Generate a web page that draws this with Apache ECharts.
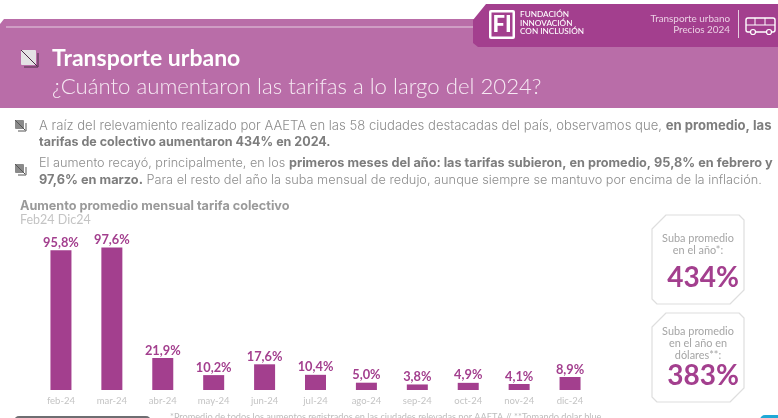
<!DOCTYPE html>
<html><head><meta charset="utf-8">
<style>html,body{margin:0;padding:0;background:#fff}#c{width:778px;height:418px}</style>
<script src="https://cdn.jsdelivr.net/npm/echarts@6/dist/echarts.min.js"></script>
</head><body><div id="c"></div>
<script>
const categories=['feb-24','mar-24','abr-24','may-24','jun-24','jul-24','ago-24','sep-24','oct-24','nov-24','dic-24'];
const values=[95.8,97.6,21.9,10.2,17.6,10.4,5.0,3.8,4.9,4.1,8.9];
const F='Lato, "Open Sans", sans-serif';
const B='Inter, Lato, sans-serif';
const PURPLE='#A33F8E', BAND='#B96DA8', GREY='#8C8C8C';
const chart=echarts.init(document.getElementById('c'),null,{renderer:'canvas'});
function txt(x,y,text,size,color,weight,align,fam){
  return {type:'text',x:x,y:y,z:20,style:{text:text,fontFamily:fam||F,fontSize:size,fill:color,fontWeight:weight||400,align:align||'left',verticalAlign:'middle'}};
}
function rich(x,y,text,size){
  return {type:'text',x:x,y:y,z:20,style:{text:text,fontFamily:B,fontSize:size,fontWeight:300,fill:GREY,verticalAlign:'middle',
    rich:{b:{fontFamily:B,fontSize:size,fontWeight:700,fill:'#7d7d7d'},n:{fontFamily:B,fontSize:size,fontWeight:300,fill:GREY}}}};
}
function icon(x,y,s,c,l){
  return [{type:'rect',z:20,shape:{x:x,y:y,width:s,height:s,r:1},style:{fill:c}},
   {type:'polyline',z:21,shape:{points:[[x,y],[x+s+1,y+s+1]]},style:{stroke:l,lineWidth:1,fill:null}},
   {type:'polyline',z:21,shape:{points:[[x+s+2,y+3],[x+s+2,y+s+2],[x+3,y+s+2]]},style:{stroke:l,lineWidth:1,fill:null}}];
}
function card(x,y,w,h){
  const c=14;
  return {type:'polygon',z:10,shape:{points:[[x+c,y],[x+w-5,y],[x+w,y+5],[x+w,y+h-c],[x+w-c,y+h],[x+5,y+h],[x,y+h-5],[x,y+c]],smooth:0},
    style:{fill:'#fff',stroke:'#DEDEDE',lineWidth:1.2,lineJoin:'round'}};
}
chart.setOption({
  animation:false,backgroundColor:'#fff',
  grid:{left:35.5,width:560,top:244,height:146},
  xAxis:{type:'category',data:categories,axisLine:{show:false},axisTick:{show:false},
    axisLabel:{color:'#C4C4C4',fontFamily:F,fontSize:9.5,margin:6}},
  yAxis:{type:'value',min:0,max:100,show:false,splitLine:{show:false}},
  series:[{type:'bar',data:values,barWidth:21,itemStyle:{color:PURPLE},
    label:{show:true,position:'top',distance:1,color:PURPLE,fontFamily:F,fontWeight:700,fontSize:12.8,
      formatter:p=>p.value.toFixed(1).replace('.',',')+'%'}}],
  graphic:{elements:[
    {type:'polygon',z:1,shape:{points:[[0,24],[4,19],[778,19],[778,108],[0,108]]},style:{fill:BAND}},
    {type:'rect',z:2,shape:{x:6,y:26.5,width:468,height:1},style:{fill:'#E6CDE0'}},
    {type:'polygon',z:3,shape:{points:[[486,4],[778,4],[778,47],[478,47],[473,43],[473,20]]},style:{fill:PURPLE}},
    {type:'rect',z:4,shape:{x:489,y:10,width:26,height:29,r:2},style:{fill:'#fff'}},
    {type:'rect',z:5,shape:{x:491.5,y:12.5,width:21,height:24},style:{fill:PURPLE}},
    txt(502,25,'FI',22,'#fff',900,'center'),
    txt(520,14.5,'FUNDACIÓN',8.2,'#fff',500),
    txt(520,23,'INNOVACIÓN',8.2,'#fff',500),
    txt(520,31.5,'CON INCLUSIÓN',8.2,'#fff',500),
    txt(730,19,'Transporte urbano',9.9,'#EBCFE4',400,'right'),
    txt(730,30,'Precios 2024',9.9,'#EBCFE4',400,'right'),
    {type:'rect',z:4,shape:{x:738,y:10,width:1,height:28},style:{fill:'#E6CDE0'}},
    {type:'rect',z:4,shape:{x:746,y:18,width:29,height:14,r:2},style:{fill:null,stroke:'#fff',lineWidth:1.4}},
    {type:'polyline',z:4,shape:{points:[[746,25],[775,25]]},style:{stroke:'#fff',lineWidth:1,fill:null}},
    {type:'polyline',z:4,shape:{points:[[755,18],[755,25]]},style:{stroke:'#fff',lineWidth:1,fill:null}},
    {type:'polyline',z:4,shape:{points:[[765,18],[765,25]]},style:{stroke:'#fff',lineWidth:1,fill:null}},
    {type:'circle',z:5,shape:{cx:753,cy:32,r:2.5},style:{fill:PURPLE,stroke:'#fff',lineWidth:1.2}},
    {type:'circle',z:5,shape:{cx:769,cy:32,r:2.5},style:{fill:PURPLE,stroke:'#fff',lineWidth:1.2}},
    ...icon(21,50,15,'#E4E2E4','#4a2a45'),
    txt(52,59,'Transporte urbano',23,'#fff',700),
    txt(52,87,'¿Cuánto aumentaron las tarifas a lo largo del 2024?',22.2,'#F6E9F3',300),
    ...icon(15,120,9,'#8A8A8A','#555'),
    ...icon(15,164,9,'#8A8A8A','#555'),
    rich(39,126,'A raíz del relevamiento realizado por AAETA en las 58 ciudades destacadas del país, observamos que, {b|en promedio, las}',13.1),
    rich(39,142,'{b|tarifas de colectivo aumentaron 434% en 2024.}',12.5),
    rich(39,163,'El aumento recayó, principalmente, en los {b|primeros meses del año: las tarifas subieron, en promedio, 95,8% en febrero y}',12.7),
    rich(39,180,'{b|97,6% en marzo.} Para el resto del año la suba mensual de redujo, aunque siempre se mantuvo por encima de la inflación.',12.75),
    txt(20,206,'Aumento promedio mensual tarifa colectivo',12.65,'#9A9A9A',700,'left',B),
    txt(20,220,'Feb24 Dic24',12.5,'#C4C4C4',400),
    card(652,215,92,89),
    txt(698,238,'Suba promedio',10.9,'#A5A5A5',400,'center'),
    txt(698,250,'en el año*:',10.9,'#A5A5A5',400,'center'),
    txt(703,278,'434%',28,PURPLE,700,'center'),
    card(652,313,92,89),
    txt(698,331,'Suba promedio',10.9,'#A5A5A5',400,'center'),
    txt(698,343,'en el año en',10.9,'#A5A5A5',400,'center'),
    txt(698,355,'dólares**:',10.9,'#A5A5A5',400,'center'),
    txt(703,376,'383%',28,PURPLE,700,'center'),
    {type:'rect',z:5,shape:{x:14,y:416,width:137,height:10,r:5},style:{fill:'#6E6E72'}},
    {type:'rect',z:5,shape:{x:760,y:415,width:30,height:10,r:5},style:{fill:'#1FA9D6'}},
    txt(170,417,'*Promedio de todos los aumentos registrados en las ciudades relevadas por AAETA // **Tomando dolar blue',9.2,'#BDBDBD',400)
  ]}
});
</script></body></html>
